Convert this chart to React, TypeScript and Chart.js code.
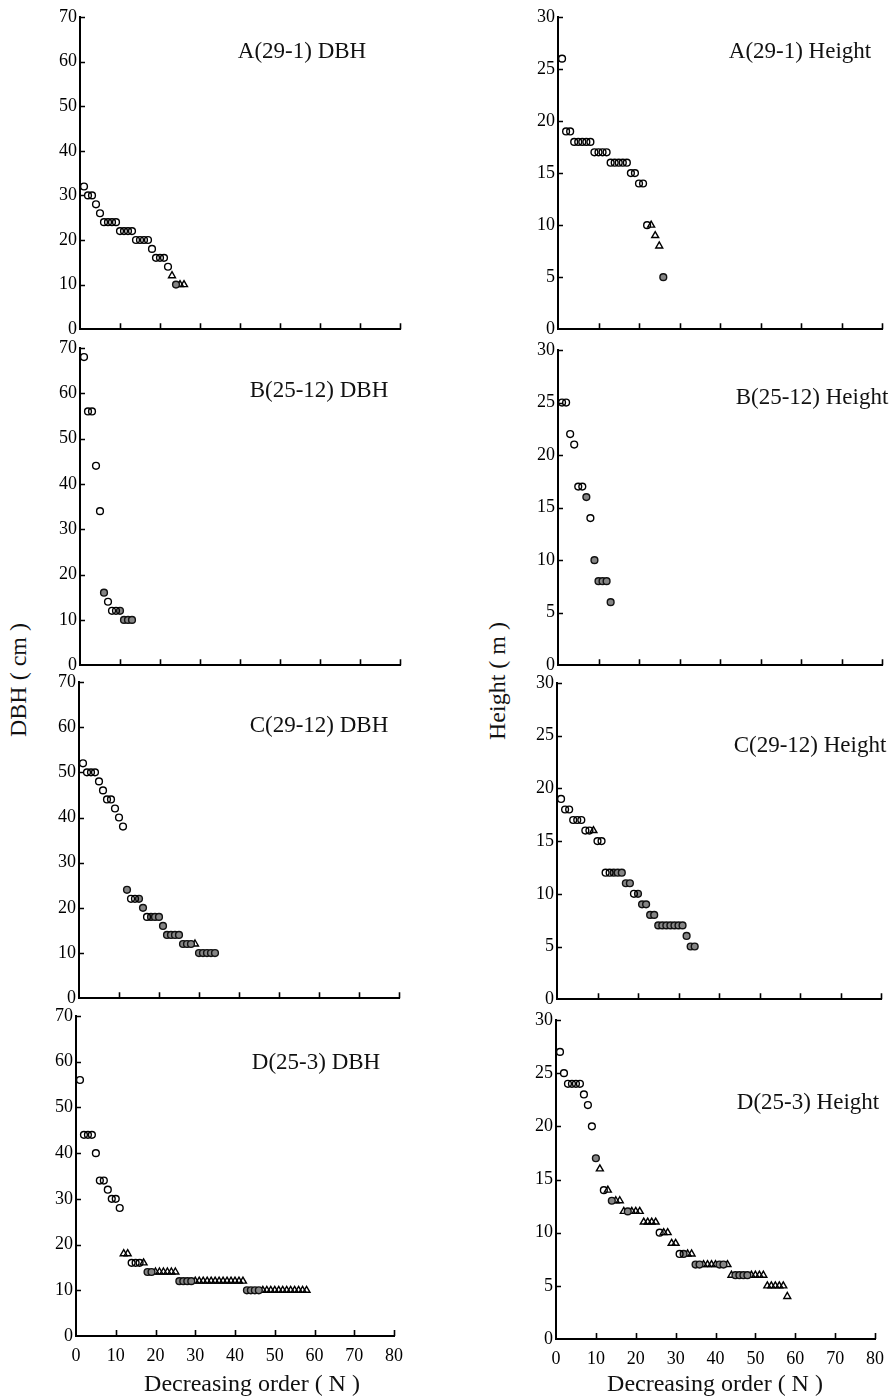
import React, { useEffect, useRef } from "react";
import { Chart, registerables } from "chart.js";

Chart.register(...registerables);

// ---------- axis ticks ----------
const orderTicks = [0, 10, 20, 30, 40, 50, 60, 70, 80];
const dbhTicks = [0, 10, 20, 30, 40, 50, 60, 70];
const heightTicks = [0, 5, 10, 15, 20, 25, 30];

// ---------- data ----------
// Values are listed in decreasing order N = 1, 2, 3, ...
// Mark codes: o = open circle, f = grey filled circle, t = open triangle (spaces ignored)
const dbhA = [32, 30, 30, 28, 26, 24, 24, 24, 24, 22, 22, 22, 22, 20, 20, 20, 20, 18, 16, 16, 16, 14, 12, 10, 10, 10];
const dbhAMarks = "ooooo ooooo ooooo ooooo ootft t";
const heightA = [26, 19, 19, 18, 18, 18, 18, 18, 17, 17, 17, 17, 16, 16, 16, 16, 16, 15, 15, 14, 14, 10, 10, 9, 8, 5];
const heightAMarks = "ooooo ooooo ooooo ooooo oottt f";

const dbhB = [68, 56, 56, 44, 34, 16, 14, 12, 12, 12, 10, 10, 10];
const dbhBMarks = "ooooo fooof fff";
const heightB = [25, 25, 22, 21, 17, 17, 16, 14, 10, 8, 8, 8, 6];
const heightBMarks = "ooooo ofoff fff";

const dbhC = [52, 50, 50, 50, 48, 46, 44, 44, 42, 40, 38, 24, 22, 22, 22, 20, 18, 18, 18, 18, 16, 14, 14, 14, 14, 12, 12, 12, 12, 10, 10, 10, 10, 10];
const dbhCMarks = "ooooo ooooo ofoof fofff fffff ffftf ffff";
const heightC = [19, 18, 18, 17, 17, 17, 16, 16, 16, 15, 15, 12, 12, 12, 12, 12, 11, 11, 10, 10, 9, 9, 8, 8, 7, 7, 7, 7, 7, 7, 7, 6, 5, 5];
const heightCMarks = "ooooo oooto oooff fffof fffff fffff ffff";

const dbhD = [56, 44, 44, 44, 40, 34, 34, 32, 30, 30, 28, 18, 18, 16, 16, 16, 16, 14, 14, 14, 14, 14, 14, 14, 14, 12, 12, 12, 12, 12, 12, 12, 12, 12, 12, 12, 12, 12, 12, 12, 12, 12, 10, 10, 10, 10, 10, 10, 10, 10, 10, 10, 10, 10, 10, 10, 10, 10];
const dbhDMarks = "ooooo ooooo ottoo otfft ttttt fffft ttttt ttttt ttfff ftttt ttttt ttt";
const heightD = [27, 25, 24, 24, 24, 24, 23, 22, 20, 17, 16, 14, 14, 13, 13, 13, 12, 12, 12, 12, 12, 11, 11, 11, 11, 10, 10, 10, 9, 9, 8, 8, 8, 8, 7, 7, 7, 7, 7, 7, 7, 7, 7, 6, 6, 6, 6, 6, 6, 6, 6, 6, 5, 5, 5, 5, 5, 4];
const heightDMarks = "ooooo oooof totft ttftt ttttt otttt ofttf ftttt ffttf ffftt ttttt ttt";

const panelTitlesDbh = ["A(29-1) DBH", "B(25-12) DBH", "C(29-12) DBH", "D(25-3) DBH"];
const panelTitlesHeight = ["A(29-1) Height", "B(25-12) Height", "C(29-12) Height", "D(25-3) Height"];

const FONT = "'Liberation Serif', 'Times New Roman', serif";

const inwardTicks = {
  id: "inwardTicks",
  afterDraw(chart: any) {
    const { ctx, chartArea, scales } = chart;
    ctx.save();
    ctx.strokeStyle = "#000";
    ctx.lineWidth = 1.6;
    ctx.beginPath();
    scales.y.ticks.forEach((t: any) => {
      if (t.value === 0) return;
      const py = Math.round(scales.y.getPixelForValue(t.value)) + 0.5;
      ctx.moveTo(chartArea.left, py);
      ctx.lineTo(chartArea.left + 5, py);
    });
    scales.x.ticks.forEach((t: any) => {
      if (t.value === 0) return;
      const px = Math.round(scales.x.getPixelForValue(t.value)) + 0.5;
      ctx.moveTo(px, chartArea.bottom);
      ctx.lineTo(px, chartArea.bottom - 6);
    });
    ctx.stroke();
    ctx.restore();
  },
};

type PanelProps = {
  values: number[];
  marks: string;
  yTicks: number[];
  x0: number;
  x1: number;
  yTop: number;
  yBottom: number;
  showX: boolean;
};

function Panel({ values, marks, yTicks, x0, x1, yTop, yBottom, showX }: PanelProps) {
  const ref = useRef<HTMLCanvasElement | null>(null);
  const padTop = 14;
  const padBottom = 12;
  const padRight = 14;
  const yAxisW = 44;
  const xAxisH = showX ? 32 : 0;
  const left = x0 - yAxisW;
  const width = x1 - left + padRight;
  const top = yTop - padTop;
  const height = yBottom - top + xAxisH + padBottom;

  useEffect(() => {
    const codes = marks.replace(/\s/g, "");
    const pick = (code: string) =>
      values
        .map((v, i) => ({ x: i + 1, y: v, c: codes[i] }))
        .filter((p) => p.c === code)
        .map((p) => ({ x: p.x, y: p.y }));
    const yMax = yTicks[yTicks.length - 1];
    const chart = new Chart(ref.current as HTMLCanvasElement, {
      type: "scatter",
      data: {
        datasets: [
          {
            data: pick("o"),
            pointStyle: "circle",
            pointRadius: 3.4,
            pointBorderWidth: 1.4,
            pointBackgroundColor: "rgba(255,255,255,0)",
            pointBorderColor: "#000",
            clip: false,
          } as any,
          {
            data: pick("f"),
            pointStyle: "circle",
            pointRadius: 3.4,
            pointBorderWidth: 1.4,
            pointBackgroundColor: "#858585",
            pointBorderColor: "#111",
            clip: false,
          } as any,
          {
            data: pick("t"),
            pointStyle: "triangle",
            pointRadius: 4,
            pointBorderWidth: 1.4,
            pointBackgroundColor: "rgba(255,255,255,0)",
            pointBorderColor: "#000",
            clip: false,
          } as any,
        ],
      },
      options: {
        responsive: false,
        animation: false,
        devicePixelRatio: 1,
        events: [],
        layout: { padding: { top: padTop, right: padRight, bottom: padBottom, left: 0 } },
        plugins: { legend: { display: false }, tooltip: { enabled: false }, title: { display: false } },
        scales: {
          x: {
            type: "linear",
            min: 0,
            max: 80,
            afterBuildTicks: (s: any) => {
              s.ticks = orderTicks.map((v) => ({ value: v }));
            },
            afterFit: (s: any) => {
              s.height = xAxisH;
            },
            grid: { display: false, drawTicks: false },
            border: { display: true, color: "#000", width: 2 },
            ticks: { display: showX, color: "#000", font: { family: FONT, size: 18 }, padding: 9, maxRotation: 0 },
          },
          y: {
            type: "linear",
            min: 0,
            max: yMax,
            afterBuildTicks: (s: any) => {
              s.ticks = yTicks.map((v) => ({ value: v }));
            },
            afterFit: (s: any) => {
              s.width = yAxisW;
            },
            grid: { display: false, drawTicks: false },
            border: { display: true, color: "#000", width: 2 },
            ticks: { color: "#000", font: { family: FONT, size: 18 }, padding: 3 },
          },
        },
      } as any,
      plugins: [inwardTicks],
    });
    return () => chart.destroy();
  }, []);

  return (
    <canvas
      ref={ref}
      width={width}
      height={height}
      style={{ position: "absolute", left, top, width, height }}
    />
  );
}

const textStyle: React.CSSProperties = {
  position: "absolute",
  fontFamily: FONT,
  fontSize: 23,
  lineHeight: 1,
  color: "#111",
  whiteSpace: "nowrap",
};

export default function App() {
  const leftGeom = [
    [80, 400, 17, 331],
    [80, 400, 348, 667],
    [79, 399, 682, 1000],
    [76, 398, 1016, 1336],
  ];
  const rightGeom = [
    [558, 882, 17, 331],
    [558, 882, 350, 667],
    [557, 881, 683, 1001],
    [556, 879, 1020, 1339],
  ];
  const dbhSets = [
    [dbhA, dbhAMarks],
    [dbhB, dbhBMarks],
    [dbhC, dbhCMarks],
    [dbhD, dbhDMarks],
  ] as [number[], string][];
  const heightSets = [
    [heightA, heightAMarks],
    [heightB, heightBMarks],
    [heightC, heightCMarks],
    [heightD, heightDMarks],
  ] as [number[], string][];
  const leftTitlePos = [
    [302, 50],
    [319, 389],
    [319, 724],
    [316, 1061],
  ];
  const rightTitlePos = [
    [800, 50],
    [812, 396],
    [810, 744],
    [808, 1101],
  ];

  return (
    <div style={{ position: "absolute", left: 0, top: 0, width: 895, height: 1397, background: "#fff" }}>
      {dbhSets.map(([vals, mk], i) => (
        <Panel
          key={"d" + i}
          values={vals}
          marks={mk}
          yTicks={dbhTicks}
          x0={leftGeom[i][0]}
          x1={leftGeom[i][1]}
          yTop={leftGeom[i][2]}
          yBottom={leftGeom[i][3]}
          showX={i === 3}
        />
      ))}
      {heightSets.map(([vals, mk], i) => (
        <Panel
          key={"h" + i}
          values={vals}
          marks={mk}
          yTicks={heightTicks}
          x0={rightGeom[i][0]}
          x1={rightGeom[i][1]}
          yTop={rightGeom[i][2]}
          yBottom={rightGeom[i][3]}
          showX={i === 3}
        />
      ))}
      {panelTitlesDbh.map((t, i) => (
        <div key={"td" + i} style={{ ...textStyle, left: leftTitlePos[i][0], top: leftTitlePos[i][1], transform: "translate(-50%, -50%)" }}>
          {t}
        </div>
      ))}
      {panelTitlesHeight.map((t, i) => (
        <div key={"th" + i} style={{ ...textStyle, left: rightTitlePos[i][0], top: rightTitlePos[i][1], transform: "translate(-50%, -50%)" }}>
          {t}
        </div>
      ))}
      <div style={{ ...textStyle, fontSize: 24, left: 18, top: 680, transform: "translate(-50%, -50%) rotate(-90deg)" }}>DBH ( cm )</div>
      <div style={{ ...textStyle, fontSize: 24, left: 497, top: 681, transform: "translate(-50%, -50%) rotate(-90deg)" }}>Height ( m )</div>
      <div style={{ ...textStyle, fontSize: 24, left: 252, top: 1383, transform: "translate(-50%, -50%)" }}>Decreasing order ( N )</div>
      <div style={{ ...textStyle, fontSize: 24, left: 715, top: 1383, transform: "translate(-50%, -50%)" }}>Decreasing order ( N )</div>
    </div>
  );
}
